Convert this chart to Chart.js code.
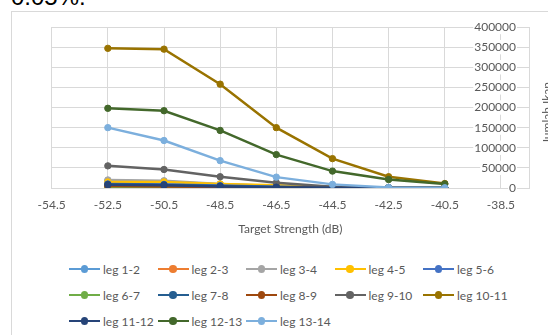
<!DOCTYPE html>
<html>
<head>
<meta charset="utf-8">
<script src="https://cdn.jsdelivr.net/npm/chart.js@4/dist/chart.umd.min.js"></script>
<style>
  body { margin: 0; background: #fff; width: 548px; height: 335px; overflow: hidden; position: relative; font-family: Lato, sans-serif; }
  #doc { position: absolute; left: 11px; top: -17px; font: 24px "Liberation Sans", sans-serif; color: #000; white-space: nowrap; }
  #frame { position: absolute; left: 11px; top: 11px; width: 600px; height: 400px; border: 1px solid #d9d9d9; }
  #wrap { position: absolute; left: 0; top: 0; }
  #ytitle { position: absolute; left: 497px; top: 106px; width: 100px; height: 14px; line-height: 14px; text-align: center;
            font-size: 12px; color: #595959; transform: rotate(-90deg); white-space: nowrap; }
  #legend { position: absolute; left: 69px; top: 256px; display: grid; grid-template-columns: repeat(5, 88.5px); grid-auto-rows: 26px; }
  .item { display: flex; align-items: center; font-size: 12px; color: #595959; white-space: nowrap; }
  .mk { position: relative; width: 31px; height: 12px; margin-right: 3px; }
  .mk .ln { position: absolute; left: 0; right: 0; top: 4.8px; height: 2.5px; }
  .mk .dt { position: absolute; left: 11.8px; top: 2.3px; width: 7.5px; height: 7.5px; border-radius: 50%; }
</style>
</head>
<body>
<div id="doc">0.05%.</div>
<div id="frame"></div>
<div id="wrap"><canvas id="chart" width="548" height="240"></canvas></div>
<div id="ytitle">Jumlah Ikan</div>
<div id="legend"></div>
<script>
// Target strength (dB) for each point
const xValues = [-52.5, -50.5, -48.5, -46.5, -44.5, -42.5, -40.5];
const xTicks = [-54.5, -52.5, -50.5, -48.5, -46.5, -44.5, -42.5, -40.5, -38.5];

const seriesNames = ['leg 1-2', 'leg 2-3', 'leg 3-4', 'leg 4-5', 'leg 5-6', 'leg 6-7', 'leg 7-8',
                     'leg 8-9', 'leg 9-10', 'leg 10-11', 'leg 11-12', 'leg 12-13', 'leg 13-14'];
const seriesColors = ['#5B9BD5', '#ED7D31', '#A5A5A5', '#FFC000', '#4472C4', '#70AD47', '#255E91',
                      '#9E480E', '#636363', '#997300', '#264478', '#43682B', '#7CAFDD'];

// jumlah ikan per leg
const leg1_2 = [18000, 16000, 9000, 5000, 2000, 500, 200];
const leg2_3 = [4000, 3500, 2000, 1000, 500, 200, 100];
const leg3_4 = [20000, 18000, 10000, 5000, 2000, 500, 200];
const leg4_5 = [15000, 15000, 10000, 7000, 2500, 600, 200];
const leg5_6 = [10000, 9000, 6000, 3000, 1000, 300, 100];
const leg6_7 = [1000, 800, 500, 300, 100, 50, 20];
const leg7_8 = [9000, 8000, 5000, 2500, 1000, 300, 100];
const leg8_9 = [5000, 4000, 2500, 1200, 400, 100, 50];
const leg9_10 = [55000, 46000, 28000, 13000, 3000, 1000, 500];
const leg10_11 = [347000, 345000, 258000, 150000, 73000, 28000, 11000];
const leg11_12 = [8000, 7000, 4000, 2000, 800, 200, 100];
const leg12_13 = [198000, 192000, 143000, 83000, 42000, 21000, 10000];
const leg13_14 = [150000, 118000, 68000, 27000, 9000, 1500, 500];

const seriesValues = [leg1_2, leg2_3, leg3_4, leg4_5, leg5_6, leg6_7, leg7_8,
                      leg8_9, leg9_10, leg10_11, leg11_12, leg12_13, leg13_14];

const textColor = '#595959';
const gridColor = '#d9d9d9';
const font = { family: 'Lato', size: 12 };

const datasets = seriesValues.map((vals, i) => ({
    label: seriesNames[i],
    data: vals.map((v, j) => ({ x: xValues[j], y: v })),
    showLine: true,
    borderColor: seriesColors[i],
    backgroundColor: seriesColors[i],
    borderWidth: 2.5,
    pointRadius: 3.2,
    pointBorderWidth: 1,
    order: seriesValues.length - i   // last series drawn on top, like Excel
}));

new Chart(document.getElementById('chart'), {
    type: 'scatter',
    data: { datasets: datasets },
    options: {
        responsive: false,
        animation: false,
        layout: { padding: { left: 51.7, top: 27, right: 0, bottom: 0 } },
        plugins: { legend: { display: false }, tooltip: { enabled: false } },
        scales: {
            x: {
                type: 'linear',
                min: -54.5,
                max: -37.5,
                afterBuildTicks: (scale) => { scale.ticks = xTicks.map(v => ({ value: v })); },
                afterFit: (scale) => { scale.height = 52; },
                grid: { color: gridColor, drawTicks: false },
                border: { color: gridColor },
                ticks: { color: textColor, font: font, padding: 10, maxRotation: 0, autoSkip: false,
                         callback: (v) => v.toFixed(1) },
                title: { display: true, text: 'Target Strength (dB)', color: textColor, font: font,
                         padding: { top: 4, bottom: 4 } }
            },
            y: {
                position: 'right',
                min: 0,
                max: 400000,
                afterFit: (scale) => { scale.width = 19; },
                grid: { color: gridColor, drawTicks: false },
                border: { color: gridColor },
                ticks: { stepSize: 50000, color: textColor, font: font, mirror: true, padding: -13,
                         callback: (v) => String(v),
                         showLabelBackdrop: true, backdropColor: '#ffffff', backdropPadding: { x: 1, y: 0 } }
            }
        }
    }
});

// legend in Excel-like columns
const legend = document.getElementById('legend');
seriesNames.forEach((name, i) => {
    const item = document.createElement('div');
    item.className = 'item';
    item.innerHTML = '<span class="mk"><span class="ln" style="background:' + seriesColors[i] + '"></span>' +
        '<span class="dt" style="background:' + seriesColors[i] + '"></span></span>' + name;
    legend.appendChild(item);
});
</script>
</body>
</html>
